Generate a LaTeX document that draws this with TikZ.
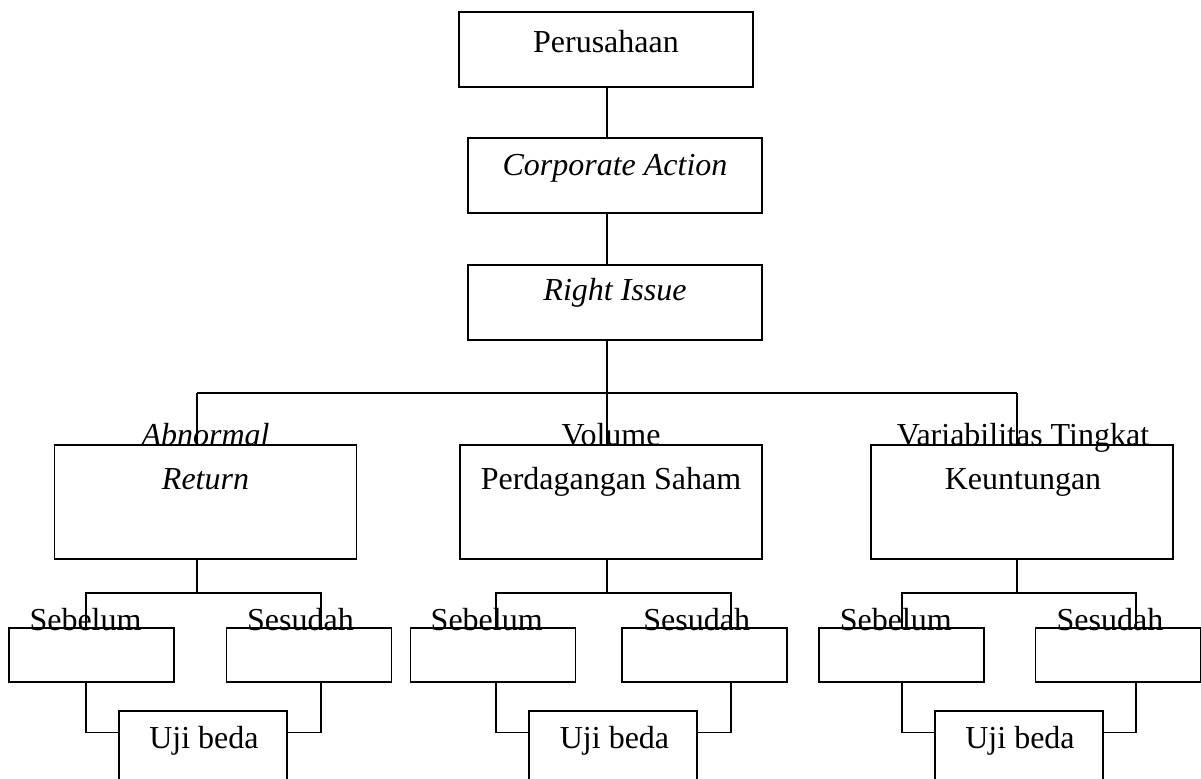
\documentclass[tikz,border=0pt]{standalone}
\usepackage{fontspec}
\setmainfont{Liberation Serif}

\tikzset{
  txt/.style={font=\fontsize{16}{22}\selectfont, anchor=base, align=center, inner sep=0pt},
  ittxt/.style={txt, font=\fontsize{16}{22}\selectfont\itshape},
  box/.style={draw, rectangle, inner sep=0pt},
  topbox/.style={box, minimum width=147pt, minimum height=37.5pt},
  bigbox/.style={box, minimum width=151pt, minimum height=57pt},
  subbox/.style={box, minimum width=82.5pt, minimum height=27pt},
  ujibox/.style={box, minimum width=84pt, minimum height=42pt}
}

\begin{document}
\begin{tikzpicture}[x=0.5pt, y=-0.5pt, line width=0.6pt]
  \useasboundingbox (0,0) rectangle (1201,778);

  % top chain
  \node[topbox] (firm) at (606,49.5) {};
  \node[txt] (firmtxt) at (606,52) {Perusahaan};
  \node[topbox] (corp) at (615,175.5) {};
  \node[ittxt] (corptxt) at (615,175) {Corporate Action};
  \node[topbox] (issue) at (615,302.5) {};
  \node[ittxt] (issuetxt) at (615,300) {Right Issue};

  \coordinate (hub) at (607,393);
  \coordinate (dropA) at (197,393);
  \coordinate (dropC) at (1017,393);
  \draw (hub |- firm.south) -- (hub |- corp.north);
  \draw (hub |- corp.south) -- (hub |- issue.north);
  \draw (dropA) -- (dropC);

  % Abnormal Return
  \begin{scope}
    \node[bigbox] (abn) at (205.5,502) {};
    \node[ittxt] (abntxt) at (205.5,489) {Abnormal\\Return};
    \node[subbox] (preA) at (91.5,655) {};
    \node[subbox] (postA) at (309,655) {};
    \node[txt] (preAtxt) at (85.5,630) {Sebelum};
    \node[txt] (postAtxt) at (300.5,630) {Sesudah};
    \node[ujibox] (testA) at (203,753) {};
    \node[txt] (testAtxt) at (204,748) {Uji beda};
    \coordinate (splitA) at (197,593);
    \coordinate (pA) at (86,593);
    \coordinate (qA) at (321,593);
    \draw (dropA) -- (dropA |- abn.north);
    \draw (splitA |- abn.south) -- (splitA);
    \draw (pA |- preA.north) -- (pA) -- (qA) -- (qA |- postA.north);
    \draw (pA |- preA.south) |- ([yshift=-11pt]testA.north west);
    \draw (qA |- postA.south) |- ([yshift=-11pt]testA.north east);
  \end{scope}

  % Volume Perdagangan Saham
  \begin{scope}
    \node[bigbox] (vol) at (611,502) {};
    \node[txt] (voltxt) at (611,489) {Volume\\Perdagangan Saham};
    \node[subbox] (preB) at (493,655) {};
    \node[subbox] (postB) at (704.5,655) {};
    \node[txt] (preBtxt) at (486.7,630) {Sebelum};
    \node[txt] (postBtxt) at (696.7,630) {Sesudah};
    \node[ujibox] (testB) at (613,753) {};
    \node[txt] (testBtxt) at (614.5,748) {Uji beda};
    \coordinate (splitB) at (607,593);
    \coordinate (pB) at (496,593);
    \coordinate (qB) at (731,593);
    \draw (hub |- issue.south) -- (hub |- vol.north);
    \draw (splitB |- vol.south) -- (splitB);
    \draw (pB |- preB.north) -- (pB) -- (qB) -- (qB |- postB.north);
    \draw (pB |- preB.south) |- ([yshift=-11pt]testB.north west);
    \draw (qB |- postB.south) |- ([yshift=-11pt]testB.north east);
  \end{scope}

  % Variabilitas Tingkat Keuntungan
  \begin{scope}
    \node[bigbox] (var) at (1022,502) {};
    \node[txt] (vartxt) at (1023,489) {Variabilitas Tingkat\\Keuntungan};
    \node[subbox] (preC) at (901.5,655) {};
    \node[subbox] (postC) at (1118,655) {};
    \node[txt] (preCtxt) at (895.8,630) {Sebelum};
    \node[txt] (postCtxt) at (1110,630) {Sesudah};
    \node[ujibox] (testC) at (1019,753) {};
    \node[txt] (testCtxt) at (1020,748) {Uji beda};
    \coordinate (splitC) at (1017,593);
    \coordinate (pC) at (902,593);
    \coordinate (qC) at (1136,593);
    \draw (dropC) -- (dropC |- var.north);
    \draw (splitC |- var.south) -- (splitC);
    \draw (pC |- preC.north) -- (pC) -- (qC) -- (qC |- postC.north);
    \draw (pC |- preC.south) |- ([yshift=-11pt]testC.north west);
    \draw (qC |- postC.south) |- ([yshift=-11pt]testC.north east);
  \end{scope}
\end{tikzpicture}
\end{document}
